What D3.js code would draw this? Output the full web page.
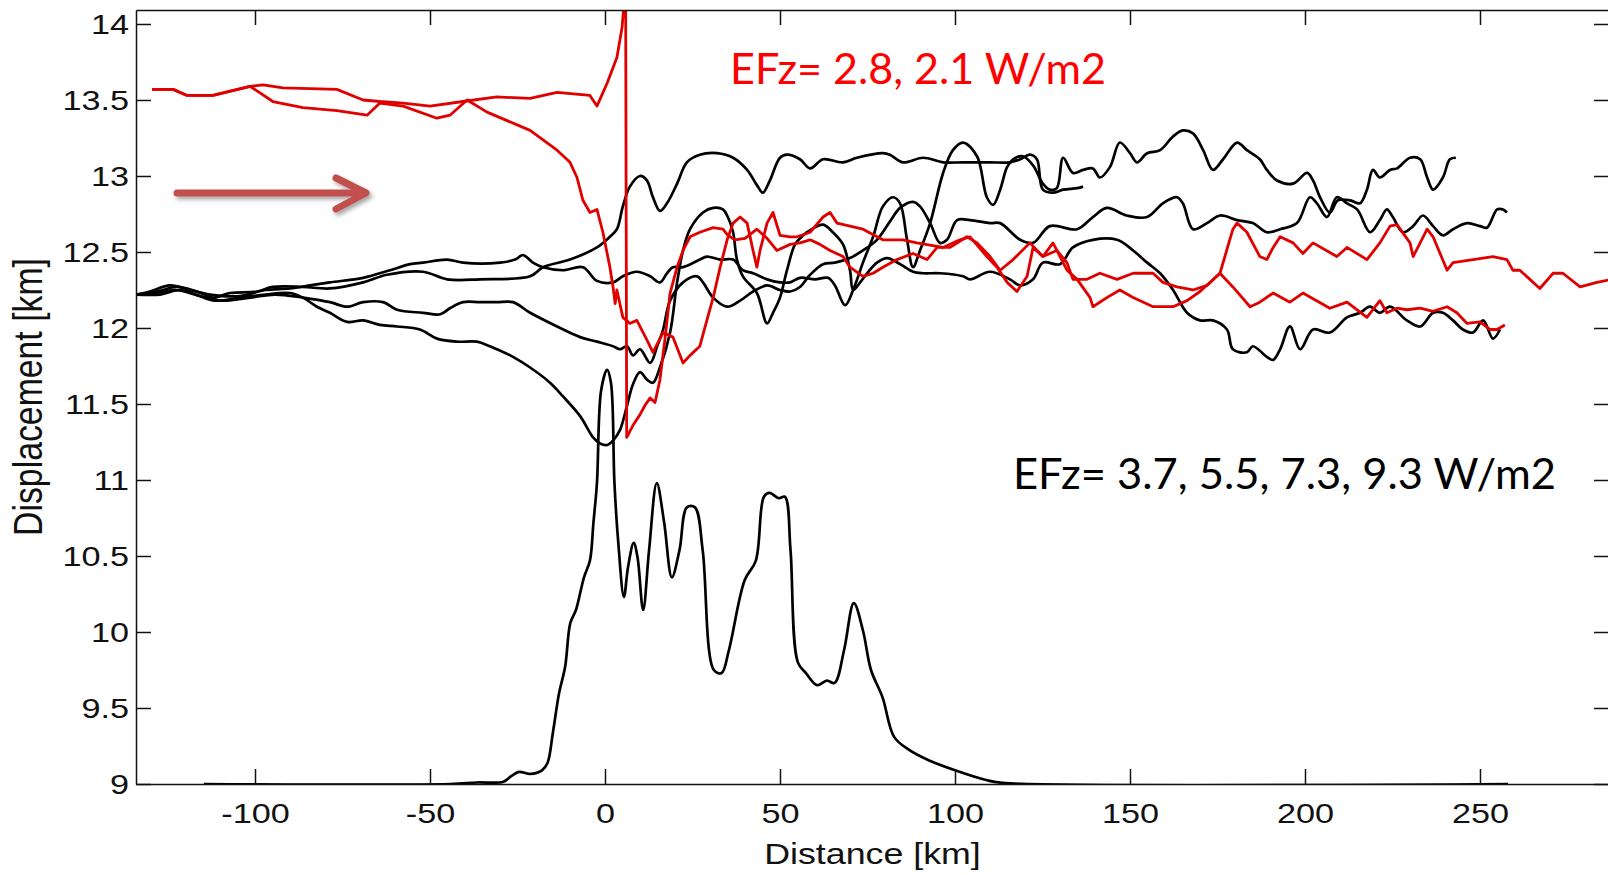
<!DOCTYPE html>
<html><head><meta charset="utf-8">
<script src="https://cdn.jsdelivr.net/npm/d3@7"></script>
<style>html,body{margin:0;padding:0;background:#fff;overflow:hidden}</style>
</head><body>
<svg id="chart" width="1608" height="875"></svg>
<script>
// ---------- data ----------
const xTicks = [-100, -50, 0, 50, 100, 150, 200, 250];
const yTicks = [9, 9.5, 10, 10.5, 11, 11.5, 12, 12.5, 13, 13.5, 14];
const xTitle = "Distance [km]";
const yTitle = "Displacement [km]";
const redNote = "EFz= 2.8, 2.1 W/m2";
const blackNote = "EFz= 3.7, 5.5, 7.3, 9.3 W/m2";

// red displacement curves [distance km, displacement km]
const redSpike = [[-129.4,13.57],[-123.4,13.57],[-119.4,13.53],[-112,13.53],[-101.4,13.59],[-97.7,13.6],[-92,13.58],[-76.6,13.57],[-69.1,13.5],[-64.3,13.49],[-57.7,13.48],[-50,13.46],[-40.6,13.49],[-30.9,13.52],[-21.4,13.51],[-13.7,13.55],[-4.3,13.53],[-2.3,13.46],[0.6,13.61],[3.4,13.78],[4.9,13.98],[5.4,14.13],[5.9,14.2],[6.2,11.28],[8,11.36],[10,11.43],[11.4,11.49],[12.9,11.54],[14.3,11.51],[15.7,11.66],[17.1,11.92],[18.6,12.23],[20.6,12.40],[22.3,12.51],[24.3,12.60],[27.1,12.63],[30.9,12.66],[33.7,12.65],[35.1,12.61],[37.1,12.58],[40,12.59],[43.4,12.65],[46.3,12.59],[49.1,12.51],[52.9,12.55],[55.7,12.56],[58.6,12.58],[61.4,12.55],[64.3,12.51],[68,12.47],[70,12.40],[73.7,12.34],[76.6,12.36],[79.4,12.40],[83.4,12.45],[88,12.49],[92,12.45],[94.9,12.53],[98.6,12.53],[103.4,12.60],[106.3,12.56],[110,12.47],[112.9,12.38],[116.6,12.45],[121.4,12.56],[125.1,12.47],[129.1,12.51],[132,12.43],[133.7,12.32],[137.7,12.32],[141.4,12.36],[146.3,12.32],[150.9,12.36],[156.6,12.36],[159.4,12.30],[163.4,12.27],[168,12.25],[172,12.28],[175.7,12.36],[179.4,12.65],[180.6,12.69],[183.4,12.63],[187.1,12.47],[189.1,12.45],[190.9,12.53],[192.9,12.60],[196.6,12.56],[199.4,12.49],[202.3,12.56],[209.1,12.47],[212,12.53],[217.7,12.45],[221.4,12.56],[224.3,12.67],[226.3,12.68],[230,12.56],[230.9,12.47],[234.9,12.65],[236.6,12.60],[240.6,12.38],[242.3,12.43],[248,12.45],[253.7,12.47],[257.7,12.45],[259.4,12.38],[261.4,12.38],[267.1,12.26],[270.9,12.36],[273.7,12.36],[278.6,12.27],[283.4,12.30],[287.7,12.32]];
const redFall = [[-129.4,13.57],[-123.4,13.57],[-119.4,13.53],[-112,13.53],[-101.4,13.59],[-94.9,13.49],[-86.3,13.45],[-76.6,13.43],[-68,13.40],[-64.3,13.48],[-57.7,13.46],[-48,13.38],[-44.3,13.40],[-39.4,13.50],[-33.7,13.42],[-21.4,13.30],[-13.7,13.17],[-10,13.09],[-8,12.99],[-6.3,12.84],[-4.3,12.76],[-2.3,12.78],[-0.6,12.63],[1.4,12.40],[2.3,12.27],[2.9,12.16],[3.4,12.25],[5.1,12.07],[7.1,12.03],[9.1,12.05],[12,11.92],[13.7,11.84],[16.6,11.97],[19.4,11.94],[22.3,11.77],[24.3,11.82],[27.1,11.88],[29.1,12.05],[30.9,12.20],[32.9,12.40],[34.9,12.58],[36.6,12.69],[38.6,12.73],[40.6,12.69],[42.3,12.51],[43.4,12.40],[44.3,12.51],[46.3,12.69],[48,12.76],[50,12.61],[52.9,12.60],[54.9,12.60],[58.6,12.63],[62.3,12.73],[64.3,12.76],[66.3,12.69],[70,12.67],[73.7,12.65],[79.4,12.58],[85.1,12.58],[89.1,12.56],[96.6,12.53],[101.4,12.58],[104.3,12.60],[109.1,12.47],[112,12.40],[114.9,12.30],[117.7,12.24],[120.6,12.34],[122.3,12.53],[125.1,12.47],[128,12.56],[132,12.38],[134.9,12.32],[138.6,12.20],[139.4,12.14],[143.4,12.20],[147.1,12.25],[150.9,12.20],[156.6,12.14],[162.3,12.14],[166.3,12.18],[170,12.24],[175.7,12.36],[179.4,12.27],[184.3,12.14],[187.1,12.17],[190.9,12.23],[195.7,12.17],[199.4,12.23],[207.1,12.13],[212,12.17],[217.7,12.07],[221.4,12.18],[223.4,12.10],[226.3,12.13],[229.1,12.12],[232.9,12.13],[236.6,12.11],[240.6,12.14],[243.4,12.10],[246.3,12.03],[250,12.04],[252.9,11.99],[254.9,11.99],[257.1,12.02]];

// black displacement curves
const blackA = [[-134,12.22],[-128,12.24],[-122.3,12.27],[-116.6,12.24],[-112,12.20],[-107.1,12.23],[-99.4,12.24],[-94.9,12.27],[-86.3,12.27],[-78.6,12.26],[-69.1,12.30],[-62.3,12.35],[-52,12.37],[-45.1,12.32],[-35.7,12.32],[-21.4,12.34],[-17.7,12.40],[-10,12.45],[-2.3,12.53],[1.4,12.60],[3.4,12.65],[5.1,12.80],[7.1,12.93],[10,13.0],[12,12.97],[13.7,12.86],[15.7,12.77],[17.7,12.82],[20.6,12.95],[23.4,13.09],[27.1,13.14],[32,13.15],[36.6,13.12],[40.6,13.04],[43.4,12.94],[45.1,12.89],[47.1,12.97],[50,13.12],[52,13.14],[55.7,13.11],[58.6,13.05],[62.3,13.11],[68,13.09],[72,13.12],[79.4,13.15],[81.4,13.14],[85.1,13.09],[90.9,13.12],[96.6,13.09],[102.3,13.09],[110,13.09],[115.7,13.09],[118.6,13.11],[121.4,13.14],[123.4,13.11],[125.1,12.91],[128,12.89],[130.9,12.91],[134.9,12.92],[136.6,12.93]];
const blackB = [[-134,12.22],[-130,12.24],[-124.3,12.28],[-118.6,12.25],[-112.9,12.22],[-104.3,12.21],[-97.1,12.25],[-90,12.26],[-84.3,12.28],[-78.6,12.30],[-69.1,12.33],[-61.4,12.38],[-55.7,12.42],[-52,12.43],[-45.1,12.45],[-40.6,12.43],[-30,12.43],[-25.7,12.45],[-23.4,12.48],[-20.6,12.43],[-17.7,12.40],[-12,12.38],[-6.3,12.40],[-2.3,12.31],[2.3,12.30],[5.1,12.34],[9.1,12.37],[12.9,12.34],[15.7,12.30],[17.7,12.36],[19.4,12.40],[22.3,12.40],[27.1,12.45],[29.1,12.47],[32.9,12.45],[36.6,12.45],[39.4,12.38],[42.3,12.36],[46.3,12.32],[50,12.30],[52.9,12.30],[55.7,12.33],[60,12.32],[63.7,12.33],[65.7,12.28],[68.6,12.15],[70.9,12.25],[73.7,12.43],[76.6,12.60],[79.4,12.80],[82.3,12.86],[84.3,12.82],[86.3,12.58],[88,12.40],[90,12.51],[92.9,12.69],[96.6,13.02],[99.4,13.17],[102.3,13.22],[106.3,13.13],[109.1,12.86],[110.9,12.81],[112.9,12.91],[114.9,13.06],[116.6,13.11],[119.4,13.13],[122.3,13.07],[125.1,12.95],[127.1,12.91],[129.1,12.92],[130.9,13.12],[133.7,13.02],[136.6,13.04],[139.4,13.05],[141.4,12.99],[144.3,13.06],[147.1,13.22],[150,13.15],[152,13.09],[154.9,13.15],[158.6,13.17],[162.3,13.26],[165.1,13.30],[168,13.28],[170.9,13.17],[173.7,13.04],[176.6,13.11],[180.6,13.22],[183.4,13.17],[187.1,13.11],[189.1,13.04],[192,12.97],[196.6,12.95],[200.6,13.02],[202.3,12.97],[204.3,12.86],[207.1,12.76],[209.4,12.84],[212.9,12.84],[215.7,12.82],[217.7,12.91],[219.4,13.04],[221.4,12.99],[224.3,13.04],[226.3,13.05],[230,13.12],[232.9,13.11],[234.9,12.99],[236.6,12.91],[239.4,12.99],[241.4,13.11],[243.1,13.12]];
const blackC = [[-134,12.22],[-127.1,12.22],[-121.4,12.25],[-115.7,12.21],[-110,12.18],[-101.4,12.20],[-94.3,12.22],[-86.3,12.20],[-78.6,12.17],[-73.7,12.14],[-69.1,12.17],[-63.4,12.17],[-59.4,12.12],[-52,12.10],[-47.1,12.09],[-44.3,12.13],[-40.6,12.17],[-35.7,12.17],[-30.9,12.17],[-26.3,12.17],[-21.4,12.10],[-13.7,12.01],[-7.1,11.94],[-2.3,11.91],[2.3,11.88],[4.3,11.86],[6.3,11.88],[8,11.82],[10,11.86],[12.9,11.77],[14.9,11.88],[16.6,11.99],[18.6,12.18],[22.3,12.30],[26.3,12.34],[28,12.30],[30.9,12.20],[34.9,12.14],[38.6,12.18],[42.3,12.24],[46.3,12.28],[50,12.25],[52.9,12.24],[55.7,12.27],[58.6,12.35],[62.3,12.42],[65.7,12.43],[70,12.46],[73.7,12.51],[77.7,12.58],[81.4,12.70],[84.3,12.79],[88,12.83],[90,12.80],[92.9,12.69],[95.7,12.56],[97.7,12.58],[100.6,12.71],[104.3,12.71],[110,12.69],[112.9,12.69],[118.6,12.58],[122.3,12.56],[127.1,12.67],[134.9,12.65],[139.4,12.73],[143.4,12.79],[149.1,12.74],[154.9,12.73],[159.4,12.82],[163.4,12.86],[165.1,12.82],[168,12.65],[172,12.69],[175.7,12.74],[180.6,12.71],[185.1,12.69],[189.1,12.63],[192.9,12.65],[197.7,12.69],[201.4,12.86],[203.4,12.82],[206.3,12.73],[209.1,12.86],[212,12.82],[214.9,12.78],[218.6,12.63],[221.4,12.71],[223.4,12.78],[225.1,12.73],[228,12.63],[230.9,12.67],[233.7,12.74],[236.6,12.67],[239.4,12.61],[242.3,12.65],[246.3,12.69],[250,12.67],[252,12.66],[254.9,12.78],[256.6,12.78],[257.7,12.76]];
const blackD = [[-134,12.22],[-128.6,12.23],[-122.9,12.25],[-117.1,12.22],[-111.4,12.18],[-104.3,12.20],[-97.1,12.22],[-90,12.23],[-86.3,12.20],[-82.3,12.14],[-78.6,12.10],[-73.7,12.04],[-69.1,12.05],[-64.3,12.02],[-59.4,12.01],[-52.9,11.99],[-48,11.93],[-42.3,11.91],[-36.6,11.91],[-32.9,11.88],[-26.3,11.81],[-21.4,11.74],[-15.7,11.64],[-12,11.55],[-7.1,11.42],[-3.4,11.28],[-1.4,11.24],[0.6,11.23],[2.3,11.26],[4.3,11.33],[6.3,11.49],[8,11.63],[10,11.71],[12,11.66],[13.7,11.64],[15.7,11.74],[18.6,11.97],[20.6,12.30],[22.3,12.51],[24.3,12.65],[28,12.76],[30.9,12.79],[33.7,12.78],[35.1,12.73],[36.6,12.63],[37.7,12.45],[39.4,12.34],[43.4,12.23],[46.3,12.03],[48,12.10],[50,12.20],[52,12.38],[54.3,12.55],[56.6,12.61],[59.1,12.65],[62.3,12.68],[65.1,12.63],[68,12.55],[70,12.38],[70.9,12.25],[72.9,12.30],[74.9,12.36],[77.7,12.43],[80.6,12.46],[84.3,12.42],[88,12.37],[90.9,12.36],[95.7,12.36],[102.3,12.34],[104.3,12.32],[110,12.37],[115.7,12.32],[118.6,12.28],[122.3,12.32],[125.1,12.43],[130,12.42],[133.7,12.53],[139.4,12.58],[146.3,12.58],[150.9,12.51],[154.9,12.43],[158.6,12.36],[162.3,12.25],[166.3,12.10],[170,12.05],[173.7,12.05],[177.7,11.99],[179.4,11.86],[183.4,11.84],[185.1,11.88],[189.1,11.81],[190.9,11.79],[192.9,11.86],[195.7,12.01],[198.6,11.86],[202.3,11.99],[207.1,11.97],[212,12.07],[215.7,12.10],[218.6,12.14],[221.4,12.10],[224.3,12.14],[229.1,12.05],[232.9,12.01],[236.6,12.10],[239.4,12.10],[242.3,12.05],[245.1,11.99],[248,11.97],[250.9,12.05],[253.7,11.93],[255.7,11.99]];

// topography profile
const topography = [[-114.6,9.0],[-44.3,9.0],[-36.6,9.01],[-29,9.015],[-26.9,9.05],[-24.6,9.08],[-21.4,9.066],[-18,9.09],[-16.4,9.14],[-14.9,9.336],[-13.1,9.6],[-11.4,9.77],[-9.9,10.06],[-8.3,10.145],[-6,10.36],[-4.3,10.47],[-3.3,10.72],[-2.3,10.98],[-1.1,11.59],[0.6,11.724],[1.7,11.64],[2.7,10.98],[3.8,10.586],[5.4,10.23],[6.6,10.43],[8.2,10.586],[9.3,10.49],[10.9,10.145],[12.6,10.54],[14.8,10.98],[16.9,10.72],[19.1,10.36],[21.3,10.54],[23.4,10.82],[25.7,10.82],[27.9,10.54],[31.1,9.75],[33.3,9.73],[35.4,9.88],[39.9,10.34],[43.1,10.47],[45.4,10.89],[47,10.915],[49.7,10.88],[51.4,10.89],[53,10.54],[55.1,9.8],[57.4,9.73],[60.6,9.65],[63.4,9.68],[65.6,9.665],[68.3,9.88],[71.1,10.19],[73.7,10.01],[76,9.75],[79.3,9.57],[82.6,9.31],[86.9,9.224],[92.3,9.158],[100,9.09],[108.9,9.026],[114.3,9.006],[258,9.0]];

// ---------- drawing ----------
const plot = {left: 136, right: 1609, top: 10, bottom: 784};
const svg = d3.select("#chart");
const x = d3.scaleLinear().domain([-134, 286.86]).range([plot.left, plot.right]);
const y = d3.scaleLinear().domain([9, 14.092]).range([plot.bottom, plot.top]);
const SX = 1.2; // horizontal stretch of the original figure

const defs = svg.append("defs");
defs.append("clipPath").attr("id", "clip").append("rect")
  .attr("x", plot.left).attr("y", plot.top)
  .attr("width", plot.right - plot.left).attr("height", plot.bottom - plot.top);
const f = defs.append("filter").attr("id", "shadow").attr("x", "-20%").attr("y", "-50%").attr("width", "140%").attr("height", "200%");
f.append("feDropShadow").attr("dx", 2.5).attr("dy", 3).attr("stdDeviation", 2).attr("flood-color", "#000").attr("flood-opacity", 0.35);

const smooth = d3.line().x(d => x(d[0])).y(d => y(d[1])).curve(d3.curveCatmullRom.alpha(0.5));
const jagged = d3.line().x(d => x(d[0])).y(d => y(d[1]));
const g = svg.append("g").attr("clip-path", "url(#clip)");

g.append("path").datum(topography).attr("d", smooth)
  .attr("fill", "none").attr("stroke", "#000").attr("stroke-width", 2.7).attr("stroke-linejoin", "round");
[blackA, blackB, blackC, blackD].forEach(s => {
  g.append("path").datum(s).attr("d", smooth)
    .attr("fill", "none").attr("stroke", "#000").attr("stroke-width", 2.7).attr("stroke-linejoin", "round");
});
[redSpike, redFall].forEach(s => {
  g.append("path").datum(s).attr("d", jagged)
    .attr("fill", "none").attr("stroke", "#e00000").attr("stroke-width", 2.8).attr("stroke-linejoin", "round");
});

// axes (MATLAB style box, inward ticks)
const tickFont = "'Liberation Sans', Arial, Helvetica, sans-serif";
function styleAxis(sel) {
  sel.select(".domain").attr("stroke", "#111").attr("stroke-width", 1.5);
  sel.selectAll(".tick line").attr("stroke", "#111").attr("stroke-width", 1.5);
  sel.selectAll("text").attr("font-family", tickFont).attr("font-size", 28.5).attr("fill", "#111");
}
const axL = svg.append("g").attr("transform", `translate(${plot.left},0)`)
  .call(d3.axisLeft(y).tickValues(yTicks).tickSizeInner(-15).tickSizeOuter(0).tickPadding(8).tickFormat(d => String(d)));
styleAxis(axL);
axL.selectAll(".tick text").attr("x", -7 / SX).attr("transform", `scale(${SX},1)`);

const axR = svg.append("g").attr("transform", `translate(${plot.right},0)`)
  .call(d3.axisRight(y).tickValues(yTicks).tickSizeInner(-15).tickSizeOuter(0).tickFormat(""));
styleAxis(axR);

const axB = svg.append("g").attr("transform", `translate(0,${plot.bottom})`)
  .call(d3.axisBottom(x).tickValues(xTicks).tickSizeInner(-15).tickSizeOuter(0).tickPadding(19).tickFormat(d => String(d)));
styleAxis(axB);
axB.selectAll(".tick text").attr("transform", `scale(${SX},1)`);

const axT = svg.append("g").attr("transform", `translate(0,${plot.top})`)
  .call(d3.axisTop(x).tickValues(xTicks).tickSizeInner(-15).tickSizeOuter(0).tickFormat(""));
styleAxis(axT);

// axis titles
svg.append("text").text(xTitle)
  .attr("transform", `translate(${(plot.left + plot.right) / 2},864) scale(${SX},1)`)
  .attr("text-anchor", "middle").attr("font-family", tickFont).attr("font-size", 29.8).attr("fill", "#111");
svg.append("text").text(yTitle)
  .attr("transform", `translate(42,${(plot.top + plot.bottom) / 2}) rotate(-90) scale(1,${SX})`)
  .attr("text-anchor", "middle").attr("font-family", tickFont).attr("font-size", 33.8).attr("fill", "#111");

// annotations
const noteFont = "Lato, 'Open Sans', sans-serif";
svg.append("text").text(redNote).attr("x", 730).attr("y", 84)
  .attr("font-family", noteFont).attr("font-size", 43).attr("fill", "#ff0000")
  .attr("textLength", 376).attr("lengthAdjust", "spacingAndGlyphs");
svg.append("text").text(blackNote).attr("x", 1013).attr("y", 489)
  .attr("font-family", noteFont).attr("font-size", 43).attr("fill", "#000")
  .attr("textLength", 543).attr("lengthAdjust", "spacingAndGlyphs");

// arrow
const arrow = svg.append("g").attr("filter", "url(#shadow)")
  .attr("stroke", "#c0504d").attr("stroke-width", 7).attr("fill", "none")
  .attr("stroke-linecap", "round").attr("stroke-linejoin", "round");
arrow.append("path").attr("d", "M177,193 L365,193");
arrow.append("path").attr("d", "M336,178 L366,193 L336,209");
</script>
</body></html>
